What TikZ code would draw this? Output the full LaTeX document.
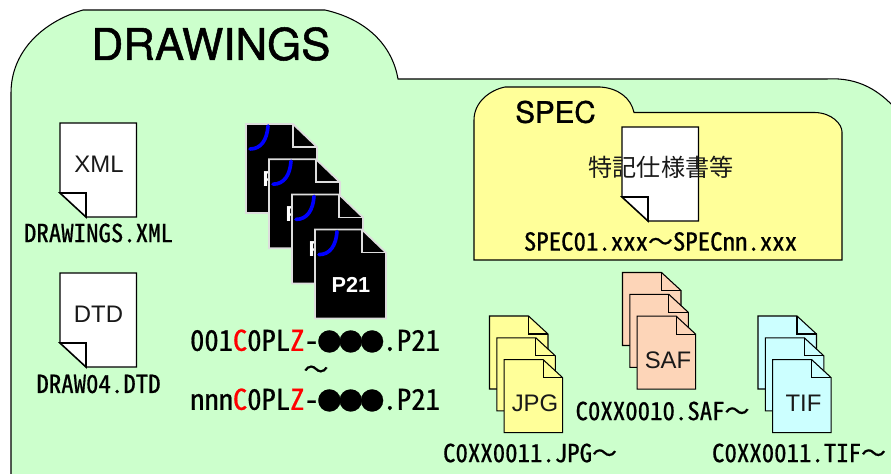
\documentclass[tikz,border=0pt]{standalone}
\usepackage{fontspec}
\setmainfont{Liberation Sans}
\newfontfamily\titlefont[FakeBold=1.2]{TeX Gyre Heros}
\newfontfamily\plainsans{Liberation Sans}
\newfontfamily\gothic[RawFeature=+hwid, FakeBold=0.7]{Noto Sans CJK JP}
\newfontfamily\wavefont[FakeBold=0.7]{Noto Sans CJK JP}
\newfontfamily\jpfont{Noto Sans CJK JP}
\usepackage{xcolor}
\definecolor{foldergreen}{HTML}{CCFFCC}
\definecolor{specyellow}{HTML}{FFFF99}
\definecolor{safpeach}{HTML}{FDD5B8}
\definecolor{tifcyan}{HTML}{CCFFFF}
\definecolor{p21gray}{HTML}{DDDDDD}
\newcommand{\bigdot}{\makebox[18.2pt]{\fontsize{21pt}{21pt}\selectfont ●}}
\newcommand{\waveline}{{\wavefont ～}}
\tikzset{
	filename/.style={inner sep=0pt, font=\gothic\fontsize{21.2pt}{24pt}\selectfont},
	p21name/.style={inner sep=0pt, font=\gothic\fontsize{24.4pt}{26pt}\selectfont},
	tag/.style={inner sep=0pt, text=black!90, font=\plainsans\fontsize{20.4pt}{22pt}\selectfont},
	sheet/.style={draw=black, line width=0.9pt, fill=white},
	stacked/.style={draw=black, line width=0.9pt, line join=miter}
}
\begin{document}
\begin{tikzpicture}[x=0.03cm, y=-0.03cm]
			\useasboundingbox (0,0) rectangle (891,473);
			\clip (0,0) rectangle (891,473);
			% outer folder
			\draw[black, line width=0.9pt, fill=foldergreen]
				(11,93) .. controls (11,52) and (42,22) .. (83,10)
				-- (325,10) .. controls (365,19) and (392,44) .. (398,79)
				-- (827,79) .. controls (860,77) and (880,92) .. (895,108)
				-- (895,490) -- (11,490) -- cycle;
			\node[inner sep=0pt, font=\titlefont\fontsize{37.4pt}{40pt}\selectfont] (drawings) at (211,44) {DRAWINGS};
			% inner folder
			\draw[black, line width=0.9pt, fill=specyellow]
				(474,120) .. controls (474,102) and (490,90) .. (505,87)
				-- (600,87) .. controls (618,88) and (631,98) .. (634,112.5)
				-- (815,112.5) .. controls (832,113) and (842,124) .. (842,132)
				-- (842,260) -- (474,260) -- cycle;
			\node[inner sep=0pt, font=\titlefont\fontsize{25.2pt}{28pt}\selectfont] (spec) at (555.5,112) {SPEC};
			% white sheets
			\foreach \x/\y/\ext in {60/123/xml, 60/273/dtd, 622/127/spc}{
				\begin{scope}[shift={(\x,\y)}]
					\draw[sheet] (0,0) -- (76.5,0) -- (76.5,94) -- (26,94) -- (0,70) -- cycle;
					\draw[black, line width=1.3pt, fill=white] (0,70) -- (26,70) -- (26,94) -- cycle;
				\end{scope}
			}
			\node[tag] (xml) at (99,164) {XML};
			\node[tag] (dtd) at (98.5,314) {DTD};
			\node[inner sep=0pt, text=black!90, font=\jpfont\fontsize{20.6pt}{22pt}\selectfont] (tokki) at (661,167) {特記仕様書等};
			\node[filename] (xmlname) at (98.5,233) {DRAWINGS.XML};
			\node[filename] (dtdname) at (98.5,384) {DRAW04.DTD};
			\node[filename] (specname) at (660.5,241.5) {SPEC01.xxx\waveline SPECnn.xxx};
			% black P21 sheets
			\foreach \i in {0,1,2,3}{
				\begin{scope}[shift={(246+23*\i,124+35.2*\i)}]
					\draw[p21gray, line width=1.5pt, fill=black]
						(0,0) -- (47,0) -- (71,23) -- (71,89) -- (0,89) -- cycle;
					\draw[p21gray, line width=1.5pt] (47,0) -- (47,23) -- (71,23);
					\draw[blue, line width=3.1pt, line cap=round] (22,2) .. controls (21,16) and (15,25) .. (4,25);
					\node[inner sep=0pt, text=white, font=\plainsans\bfseries\fontsize{18.5pt}{20pt}\selectfont] (p21\i) at (36,55) {P21};
				\end{scope}
			}
			\node[p21name] (first) at (315,341) {001\textcolor{red}{C}0PL\textcolor{red}{Z}-\bigdot\bigdot\bigdot.P21};
			\node[filename] (wave) at (316,372) {\waveline};
			\node[p21name] (last) at (315,400) {nnn\textcolor{red}{C}0PL\textcolor{red}{Z}-\bigdot\bigdot\bigdot.P21};
			% coloured stacks
			\foreach \x/\y/\tint/\ext in {489.5/316/specyellow/JPG, 622.5/272.5/safpeach/SAF, 758/316/tifcyan/TIF}{
				\foreach \i in {0,1,2}{
					\begin{scope}[shift={(\x+7.3*\i,\y+21.8*\i)}]
						\draw[stacked, fill=\tint]
							(0,0) -- (39,0) -- (58.5,18) -- (58.5,73) -- (0,73) -- cycle;
						\draw[stacked] (39,0) -- (39,18) -- (58.5,18);
					\end{scope}
				}
				\node[tag] (\ext) at (\x+45.5,\y+87.5) {\ext};
			}
			\node[filename] (jpgname) at (530,453) {C0XX0011.JPG\waveline};
			\node[filename] (safname) at (662.5,411) {C0XX0010.SAF\waveline};
			\node[filename] (tifname) at (799,453) {C0XX0011.TIF\waveline};
\end{tikzpicture}
\end{document}
